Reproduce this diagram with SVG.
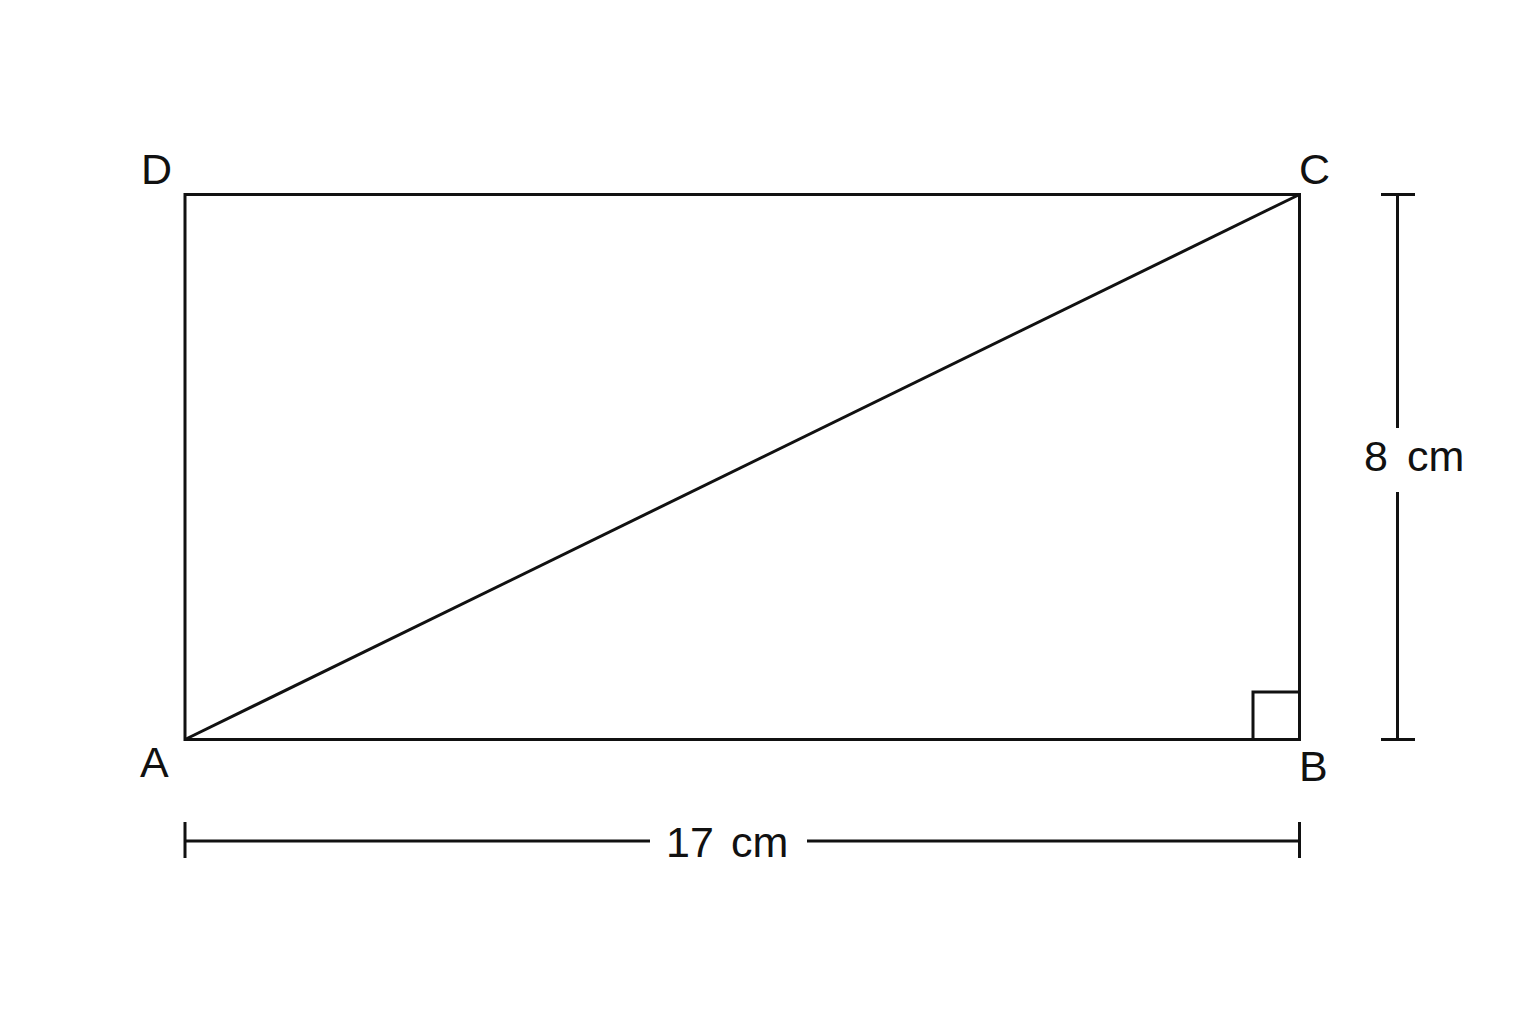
<svg xmlns="http://www.w3.org/2000/svg" width="1536" height="1024" viewBox="0 0 1536 1024">
<style>
.ln{stroke:#111;stroke-width:3;fill:none;stroke-linecap:butt}
.lbl{font-family:"Liberation Sans",Arial,sans-serif;font-size:43px;fill:#111}
</style>
<rect width="1536" height="1024" fill="#fff"/>
<g id="rectangle">
<rect class="ln" x="185" y="194.5" width="1114.5" height="545"/>
<path class="ln" d="M1253 739.5V692H1299.5"/>
</g>
<g id="connectors">
<line class="ln" x1="185" y1="739.5" x2="1299.5" y2="194.5"/>
</g>
<g id="dim-height">
<path class="ln" d="M1381 194.5H1415M1381 739.5H1415M1397.5 194.5V428M1397.5 492V739.5"/>
<text class="lbl" x="1364" y="471">8 <tspan x="1407">cm</tspan></text>
</g>
<g id="dim-width">
<path class="ln" d="M185 822V858M1299.5 822V858M185 841H650M807 841H1299.5"/>
<text class="lbl" x="666" y="857">17 <tspan x="731">cm</tspan></text>
</g>
<g id="labels">
<text class="lbl" x="141" y="184">D</text>
<text class="lbl" x="1299" y="184">C</text>
<text class="lbl" x="140" y="777">A</text>
<text class="lbl" x="1299" y="781">B</text>
</g>
</svg>
